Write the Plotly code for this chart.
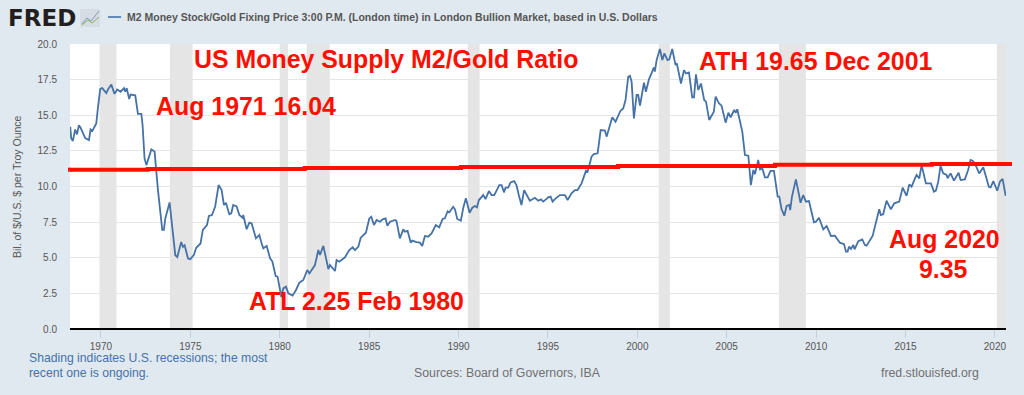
import plotly.graph_objects as go

W, H = 1024, 395
L, R, T, B = 70, 1006, 44, 329

years = [
 1968.28,1968.34,1968.43,1968.56,1968.66,1968.77,1968.86,1969.0,1969.12,1969.33,1969.42,1969.52,1969.74,1969.83,1969.96,
 1970.07,1970.3,1970.39,1970.58,1970.76,1970.91,1971.1,1971.29,1971.36,1971.44,1971.58,1971.66,1971.92,1972.07,1972.26,
 1972.33,1972.44,1972.54,1972.82,1973.0,1973.19,1973.43,1973.52,1973.6,1973.84,1974.03,1974.16,1974.27,1974.49,1974.59,
 1974.68,1974.87,1975.0,1975.2,1975.33,1975.57,1975.7,1975.93,1976.04,1976.21,1976.39,1976.58,
 1976.75,1976.88,1976.99,1977.18,1977.29,1977.4,1977.59,1977.74,1977.93,1977.96,1978.15,1978.3,1978.43,1978.67,1978.86,
 1978.99,1979.08,1979.27,1979.46,1979.59,1979.77,1979.88,1979.98,1980.09,1980.2,1980.35,1980.48,1980.72,1980.91,1981.1,
 1981.32,1981.54,1981.66,1981.97,1982.16,1982.25,1982.44,1982.59,1982.72,1982.81,1983.09,1983.18,1983.33,1983.65,1983.89,
 1984.08,1984.21,1984.4,1984.53,1984.82,1985.01,1985.12,1985.27,1985.42,1985.61,1985.76,1985.92,1986.02,1986.17,1986.45,
 1986.53,1986.72,1986.91,1987.0,1987.15,1987.33,1987.41,1987.65,1987.84,1987.97,1988.12,1988.3,1988.49,1988.73,1988.92,
 1989.11,1989.24,1989.39,1989.48,1989.7,1989.8,1989.93,1990.13,1990.26,1990.41,1990.62,1990.77,1990.91,1991.03,1991.14,
 1991.38,1991.51,1991.7,1991.85,1992.0,1992.28,1992.41,1992.54,1992.63,1992.78,1992.91,1993.11,1993.24,1993.37,1993.52,
 1993.67,1993.8,1993.99,1994.27,1994.46,1994.61,1994.74,1995.02,1995.15,1995.26,1995.39,1995.67,1995.95,1996.1,1996.32,
 1996.51,1996.66,1996.88,
 1997.13,1997.22,1997.44,1997.57,1997.78,1997.95,1998.09,1998.19,1998.28,1998.47,1998.6,1998.78,1999.06,1999.21,1999.34,
 1999.49,1999.59,1999.68,1999.81,1999.96,2000.05,2000.15,2000.37,2000.48,2000.65,2000.93,2000.98,2001.08,2001.26,2001.4,
 2001.51,2001.69,2001.79,2001.95,2002.14,2002.21,2002.44,2002.61,2002.72,2002.89,2003.07,2003.17,2003.28,2003.41,2003.56,
 2003.74,2003.84,2004.02,2004.19,2004.28,2004.38,2004.56,2004.71,2004.94,2005.09,2005.22,2005.42,2005.51,2005.59,2005.87,
 2006.02,2006.21,2006.35,2006.49,2006.58,2006.76,2006.86,2006.99,2007.14,2007.29,2007.45,2007.64,2007.85,2007.94,2008.07,
 2008.22,2008.35,2008.5,2008.55,2008.65,2008.87,2009.13,2009.28,2009.43,2009.6,2009.88,2009.99,2010.16,2010.4,2010.59,
 2010.83,2011.05,2011.33,2011.56,2011.67,2011.76,2011.84,2011.95,2012.08,2012.15,2012.36,2012.58,2012.73,
 2012.82,2013.16,2013.29,2013.53,2013.62,2013.75,2013.94,2014.18,2014.37,2014.5,2014.65,2014.84,2014.97,2015.06,2015.21,
 2015.34,2015.53,2015.62,2015.77,2015.9,2016.14,2016.42,2016.59,2016.7,2016.83,2016.96,2017.11,2017.3,2017.35,2017.52,
 2017.71,2017.97,2018.08,2018.32,2018.5,2018.64,2018.75,2018.88,2019.12,2019.35,2019.53,2019.66,2019.76,2019.91,2020.13,
 2020.28,2020.43,2020.6,
]
ratio = [
 14.2,13.38,13.2,14.0,13.66,14.3,14.13,13.66,13.4,13.26,14.0,13.9,14.43,15.5,16.85,
 16.9,16.55,16.8,17.15,16.5,16.8,16.65,16.9,16.65,16.9,16.14,16.45,16.4,15.1,15.1,
 14.3,11.97,11.5,12.6,12.45,9.75,6.95,6.95,7.76,8.88,6.35,5.17,5.05,6.1,5.77,
 5.88,4.95,4.9,5.2,5.7,6.0,6.95,7.3,7.93,8.0,8.6,10.1,
 9.75,8.7,8.86,8.05,8.12,8.7,8.6,8.0,7.8,8.0,7.0,7.46,7.4,6.36,6.6,
 6.0,5.66,5.83,4.96,4.73,3.72,3.67,2.97,2.25,2.85,2.97,2.5,2.34,2.74,3.25,
 3.44,4.14,3.9,4.49,5.54,5.19,5.83,5.07,4.2,4.49,4.07,4.84,4.72,5.03,5.54,
 5.73,5.54,5.78,6.41,6.76,7.76,7.88,7.3,7.65,7.53,7.7,7.76,7.25,7.53,7.65,
 7.58,6.36,6.99,6.83,6.88,6.06,6.2,6.1,6.06,5.82,6.53,6.48,6.71,7.3,7.13,
 7.72,7.77,8.26,8.18,8.58,8.4,7.72,7.6,8.47,9.17,8.16,8.51,8.63,8.54,9.05,
 9.4,9.12,9.68,9.4,9.4,10.1,10.1,9.59,9.92,9.92,10.29,10.38,10.1,9.4,8.7,
 9.75,9.4,9.0,9.21,9.0,9.1,8.94,9.24,9.29,8.94,9.12,9.4,9.4,9.05,9.52,
 9.75,9.75,10.22,
 11.11,11.04,12.09,12.28,12.33,13.96,13.92,13.92,13.5,14.3,14.86,14.55,15.32,15.48,16.07,
 17.7,17.77,17.35,14.78,16.42,16.42,15.67,17.28,16.65,17.52,18.36,18.06,18.87,19.65,18.87,
 19.34,18.87,18.92,19.65,18.52,18.64,17.23,18.17,17.93,18.0,16.25,16.25,17.87,16.77,17.23,
 16.07,15.95,14.67,15.09,15.25,16.3,15.84,15.67,14.48,15.18,14.86,15.37,15.18,15.42,13.85,
 12.21,12.16,10.1,11.16,10.87,11.86,11.2,11.27,10.64,10.64,11.09,11.09,9.29,9.29,8.4,
 7.95,8.63,8.7,8.35,9.29,10.5,8.86,9.4,8.93,8.98,7.49,7.53,7.81,6.99,7.23,
 6.53,6.55,6.06,5.96,5.43,5.43,5.78,5.62,5.89,5.59,6.17,6.29,5.89,
 5.85,6.53,7.18,8.4,8.0,8.05,9.0,8.4,8.82,8.89,8.94,9.92,9.52,9.34,10.15,
 9.99,10.57,10.81,10.57,11.5,10.22,10.22,9.64,9.71,10.34,11.44,10.92,10.81,10.57,10.92,
 10.41,10.97,10.45,10.5,11.16,11.86,11.81,11.62,10.92,11.35,10.57,9.98,9.94,10.38,9.7,
 10.34,10.53,9.35,
]

rec_start = [1969.92, 1973.86, 1980.0, 1981.5, 1990.52, 2001.2, 2007.92, 2020.11]
rec_end = [1970.87, 1975.13, 1980.46, 1982.8, 1991.18, 2001.82, 2009.43, 2020.62]

trend_x = [1968.27, 1972.62, 1981.4, 1990.14, 1998.92, 2007.7, 2016.47, 2020.62]
trend_y = [11.18, 11.23, 11.3, 11.37, 11.44, 11.53, 11.58, 11.58]

xticks = [1970, 1975, 1980, 1985, 1990, 1995, 2000, 2005, 2010, 2015, 2020]
yticks = [0, 2.5, 5, 7.5, 10, 12.5, 15, 17.5, 20]
ytick_text = ["0.0", "2.5", "5.0", "7.5", "10.0", "12.5", "15.0", "17.5", "20.0"]

BG = "#E1E9F0"
LINE = "#4572A7"
RED = "#FF0F00"
SANS = "Liberation Sans"

def px(x):
    return (x - L) / (R - L)

def py(y):
    return (B - y) / (B - T)

def label(text, x, y, size, color, bold=False, xanchor="center", angle=0):
    return dict(text=f"<b>{text}</b>" if bold else text, x=px(x), y=py(y), xref="paper", yref="paper",
                xanchor=xanchor, yanchor="middle", showarrow=False, textangle=angle,
                font=dict(family=SANS, size=size, color=color), align="center")

fig = go.Figure()
fig.add_trace(go.Scatter(x=years, y=ratio, mode="lines", line=dict(color=LINE, width=1.8), hoverinfo="skip"))
fig.add_trace(go.Scatter(x=trend_x, y=trend_y, mode="lines", line=dict(color=RED, width=4, shape="hv"),
                         hoverinfo="skip"))

shapes = [dict(type="rect", xref="x", yref="paper", x0=a, x1=b, y0=0, y1=1, fillcolor="#E5E5E5",
               line=dict(width=0), layer="below") for a, b in zip(rec_start, rec_end)]
# the hand-drawn red line runs slightly past both plot edges
shapes.append(dict(type="line", xref="paper", yref="y", x0=px(68), x1=px(71), y0=trend_y[0], y1=trend_y[0],
                   line=dict(color=RED, width=4)))
shapes.append(dict(type="line", xref="paper", yref="y", x0=px(1005), x1=px(1012), y0=trend_y[-1], y1=trend_y[-1],
                   line=dict(color=RED, width=4)))
# legend key and small logo tile
shapes.append(dict(type="line", xref="paper", yref="paper", x0=px(108), x1=px(121), y0=py(17), y1=py(17),
                   line=dict(color=LINE, width=1.6)))
shapes.append(dict(type="rect", xref="paper", yref="paper", x0=px(80), x1=px(100), y0=py(27), y1=py(9),
                   fillcolor="#D5DCE3", line=dict(width=0)))
shapes.append(dict(type="path", xref="paper", yref="paper",
                   path=f"M {px(82)} {py(24)} L {px(87)} {py(18)} L {px(91)} {py(21)} L {px(99)} {py(11)}",
                   line=dict(color="#7F9DB9", width=1)))
shapes.append(dict(type="path", xref="paper", yref="paper",
                   path=f"M {px(82)} {py(25)} L {px(88)} {py(20)} L {px(92)} {py(23)} L {px(99)} {py(17)}",
                   line=dict(color="#8FAE5D", width=1)))

annotations = [
    dict(text="<b>FRED</b>", x=px(6), y=py(18), xref="paper", yref="paper", xanchor="left", yanchor="middle",
         showarrow=False, font=dict(family="DejaVu Sans", size=23, color="#231F20")),
    label("M2 Money Stock/Gold Fixing Price 3:00 P.M. (London time) in London Bullion Market, based in U.S. Dollars",
          124.5, 17, 10.5, "#555555", bold=True, xanchor="left"),
    label("Bil. of $/U.S. $ per Troy Ounce", 17, 187, 10.5, "#555555", angle=-90),
    label("US Money Supply M2/Gold Ratio", 385.5, 59, 24.9, RED, bold=True),
    label("Aug 1971 16.04", 245.5, 106, 24.9, RED, bold=True),
    label("ATH 19.65 Dec 2001", 815.5, 61, 24.9, RED, bold=True),
    label("ATL 2.25 Feb 1980", 356, 301, 24.9, RED, bold=True),
    label("Aug 2020", 944, 239, 24.9, RED, bold=True),
    label("9.35", 943, 269, 24.9, RED, bold=True),
    label("Shading indicates U.S. recessions; the most", 26.5, 358, 12.2, LINE, xanchor="left"),
    label("recent one is ongoing.", 26.5, 373, 12.2, LINE, xanchor="left"),
    label("Sources: Board of Governors, IBA", 411.5, 373, 12.3, "#707070", xanchor="left"),
    label("fred.stlouisfed.org", 879, 373, 12.3, "#707070", xanchor="left"),
]

fig.update_layout(
    width=W, height=H, margin=dict(l=L, r=W - R, t=T, b=H - B, pad=0, autoexpand=False),
    paper_bgcolor=BG, plot_bgcolor="#FFFFFF", showlegend=False,
    shapes=shapes, annotations=annotations,
    xaxis=dict(range=[1968.27, 2020.62], tickmode="array", tickvals=xticks, ticks="outside", ticklen=8, tickwidth=1,
               tickcolor="#C0D0E0", showgrid=False, zeroline=False, showline=False,
               tickfont=dict(family=SANS, size=10, color="#555555")),
    yaxis=dict(range=[0, 20], tickmode="array", tickvals=yticks, ticktext=ytick_text, ticks="outside", ticklen=10,
               tickcolor="rgba(0,0,0,0)", gridcolor="#E6E6E6", gridwidth=1, zeroline=True, zerolinecolor="#000000",
               zerolinewidth=2, showline=False, tickfont=dict(family=SANS, size=10, color="#555555")),
)

fig.write_html("out.html", config={"displayModeBar": False},
               post_script="document.body.style.margin='0';document.body.style.overflow='hidden';")
